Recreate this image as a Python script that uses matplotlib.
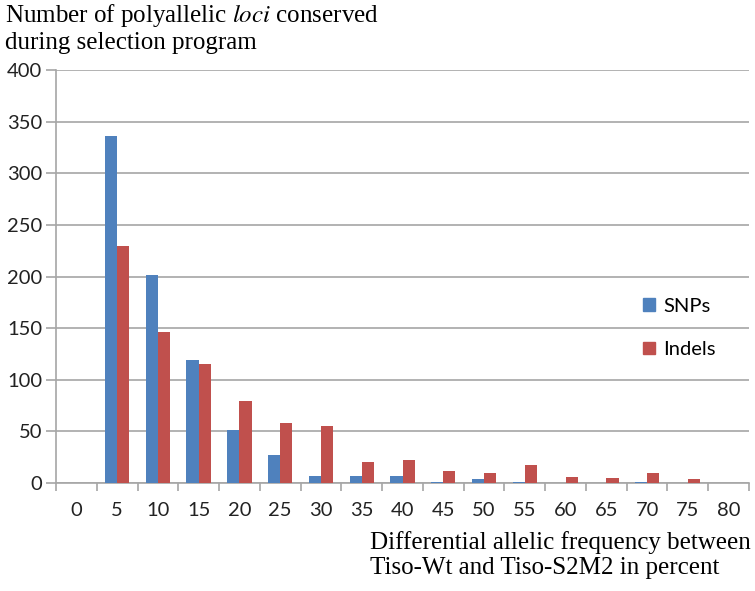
import numpy as np
import matplotlib.pyplot as plt
from matplotlib.patches import Patch

# differential allelic frequency classes (%)
categories = ['0', '5', '10', '15', '20', '25', '30', '35', '40',
              '45', '50', '55', '60', '65', '70', '75', '80']
snps = [0, 336, 201, 119, 51, 27, 7, 7, 7, 1, 4, 1, 0, 0, 1, 0, 0]
indels = [0, 230, 146, 115, 79, 58, 55, 20, 22, 12, 10, 17, 6, 5, 10, 4, 0]

blue = '#4F81BD'
red = '#C0504D'
grid_c = '#A6A6A6'
tick_font = 'Lato'
serif = 'Liberation Serif'

W, H = 755, 591
fig = plt.figure(figsize=(W / 100, H / 100), dpi=100)
ax = fig.add_axes([56 / W, (H - 483) / H, (749 - 56) / W, (483 - 70) / H])

x = np.arange(len(categories))
bw = 0.3
ax.bar(x - bw / 2, snps, bw, color=blue, label='SNPs', zorder=3)
ax.bar(x + bw / 2, indels, bw, color=red, label='Indels', zorder=3)

ax.set_xlim(-0.5, len(categories) - 0.5)
ax.set_ylim(0, 400)
ax.set_yticks(range(0, 401, 50))
ax.yaxis.grid(True, color=grid_c, linewidth=1.2, zorder=0)

# category ticks sit at the group boundaries, labels in the middle
ax.set_xticks(np.arange(-0.5, len(categories), 1.0))
ax.set_xticklabels([])
ax.set_xticks(x, minor=True)
ax.set_xticklabels(categories, minor=True)
ax.tick_params(axis='x', which='major', length=6, width=1.2, color=grid_c, direction='out')
ax.tick_params(axis='x', which='minor', length=0, pad=14, labelsize=14.5)
ax.tick_params(axis='y', length=7, width=1.2, color=grid_c, labelsize=14.5, pad=3)
for lbl in ax.get_xticklabels(minor=True) + ax.get_yticklabels():
    lbl.set_fontfamily(tick_font)
    lbl.set_color('#222222')

for s in ['top', 'right']:
    ax.spines[s].set_visible(False)
for s in ['left', 'bottom']:
    ax.spines[s].set_color(grid_c)
    ax.spines[s].set_linewidth(1.2)

fig.text(5 / W, 1 - 2 / H, 'Number of polyallelic $\\it{loci}$ conserved\nduring selection program',
         ha='left', va='top', fontsize=18, family=serif, linespacing=1.2,
         math_fontfamily='stix')
fig.text(370 / W, 1 - 531 / H, 'Differential allelic frequency between\nTiso-Wt and Tiso-S2M2 in percent',
         ha='left', va='top', fontsize=18, family=serif, linespacing=1.2)

handles = [Patch(color=blue), Patch(color=red)]
fig.legend(handles, ['SNPs', 'Indels'], loc='center left',
           bbox_to_anchor=(643 / W, 1 - 328 / H), frameon=False,
           borderpad=0, borderaxespad=0,
           prop={'family': tick_font, 'size': 14.5}, handlelength=0.6,
           handleheight=0.6, handletextpad=0.4, labelspacing=1.3)

fig.savefig('out.png', dpi=100)
